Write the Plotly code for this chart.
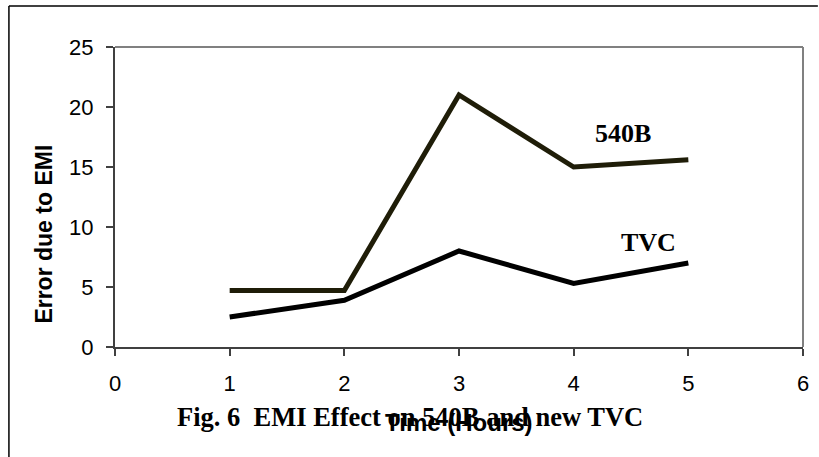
import plotly.graph_objects as go

hours = [1, 2, 3, 4, 5]
err_540b = [4.7, 4.7, 21.0, 15.0, 15.6]
err_tvc = [2.5, 3.9, 8.0, 5.3, 7.0]

x_ticks = [0, 1, 2, 3, 4, 5, 6]
y_ticks = [0, 5, 10, 15, 20, 25]

W, H = 819, 457
L, R, T, B = 115, 10, 47, 110
pw, ph = W - L - R, H - T - B


def px(x):
    return (x - L) / pw


def py(y):
    return (H - B - y) / ph


fig = go.Figure()
fig.add_trace(go.Scatter(x=hours, y=err_540b, mode="lines", name="540B",
                         line=dict(color="#1f1d08", width=5)))
fig.add_trace(go.Scatter(x=hours, y=err_tvc, mode="lines", name="TVC",
                         line=dict(color="#000000", width=5)))

axis_font = dict(family="Arial, Liberation Sans", size=22, color="#000000")
fig.update_xaxes(range=[0, 6], tickvals=x_ticks, showgrid=False, zeroline=False,
                 showline=True, linecolor="#404040", linewidth=2,
                 ticks="outside", ticklen=7, tickwidth=2, tickcolor="#404040",
                 tickfont=axis_font, ticklabelstandoff=9)
fig.update_yaxes(range=[0, 25], tickvals=y_ticks, showgrid=False, zeroline=False,
                 showline=True, linecolor="#404040", linewidth=2,
                 ticks="outside", ticklen=7, tickwidth=2, tickcolor="#404040",
                 tickfont=axis_font, ticklabelstandoff=8)

# top and right frame of the plot area (lighter grey)
fig.add_shape(type="line", xref="paper", yref="paper", x0=0, x1=1, y0=1, y1=1,
              line=dict(color="#808080", width=2))
fig.add_shape(type="line", xref="paper", yref="paper", x0=1, x1=1, y0=0, y1=1,
              line=dict(color="#808080", width=2))

# outer border: only left and top edges fall inside the picture
fig.add_shape(type="line", xref="paper", yref="paper",
              x0=px(8), x1=px(W + 5), y0=py(6), y1=py(6),
              line=dict(color="#000000", width=1.5))
fig.add_shape(type="line", xref="paper", yref="paper",
              x0=px(8), x1=px(8), y0=py(6), y1=py(H + 5),
              line=dict(color="#000000", width=1.5))

serif = "Liberation Serif, Times New Roman, serif"
fig.add_annotation(x=4.43, y=17.8, text="<b>540B</b>", showarrow=False,
                   xanchor="center", yanchor="middle",
                   font=dict(family=serif, size=26, color="#000000"))
fig.add_annotation(x=4.65, y=8.7, text="<b>TVC</b>", showarrow=False,
                   xanchor="center", yanchor="middle",
                   font=dict(family=serif, size=26, color="#000000"))

fig.add_annotation(xref="paper", yref="paper", x=px(43), y=py(234),
                   xanchor="center", yanchor="middle",
                   text="<b>Error due to EMI</b>", textangle=-90, showarrow=False,
                   font=dict(family="Arial, Liberation Sans", size=23, color="#000000"))
fig.add_annotation(x=3, xref="x", yref="paper", y=py(422),
                   xanchor="center", yanchor="middle",
                   text="<b>Time (Hours)</b>", showarrow=False,
                   font=dict(family="Arial, Liberation Sans", size=24, color="#000000"))
fig.add_annotation(xref="paper", yref="paper", x=px(412.5), y=py(417),
                   xanchor="center", yanchor="middle",
                   text="<b>Fig. 6\u00a0 EMI Effect on 540B and new TVC</b>", showarrow=False,
                   font=dict(family=serif, size=26.5, color="#000000"))

fig.update_layout(width=W, height=H, margin=dict(l=L, r=R, t=T, b=B),
                  paper_bgcolor="white", plot_bgcolor="white", showlegend=False,
                  hovermode=False)

# drop the page's default body margin so the figure sits at the window corner
fig.write_html("out.html", config={"displayModeBar": False},
               post_script="document.body.style.margin='0';")
